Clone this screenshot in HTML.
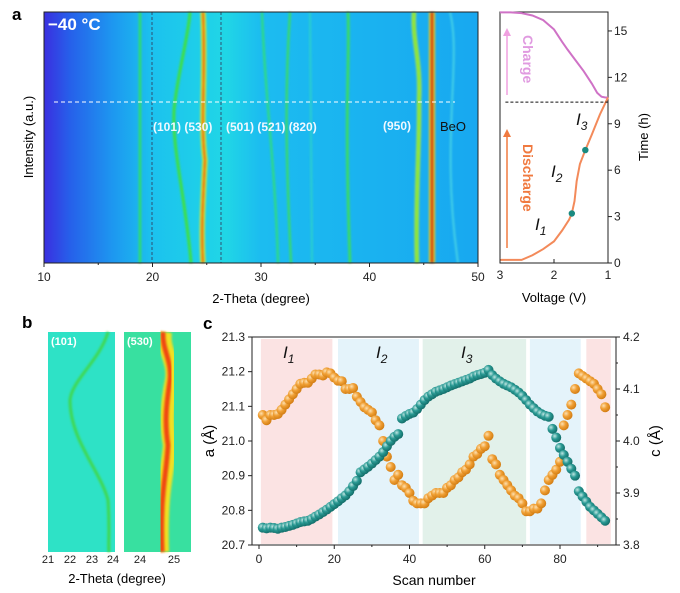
<!DOCTYPE html>
<html><head><meta charset="utf-8"><style>
body{margin:0;background:#fff;width:680px;height:593px;overflow:hidden;font-family:"Liberation Sans",sans-serif}
svg{position:absolute;left:0;top:0}
text{font-family:"Liberation Sans","Noto Sans CJK SC",sans-serif}
</style></head><body>
<svg width="680" height="593" viewBox="0 0 680 593">
<defs>
<linearGradient id="bgA" x1="0" x2="1" y1="0" y2="0">
<stop offset="0" stop-color="#3a2fe0"/><stop offset="0.06" stop-color="#2660ea"/><stop offset="0.16" stop-color="#1d98f0"/><stop offset="0.25" stop-color="#1cc2ee"/><stop offset="0.42" stop-color="#20d6e6"/><stop offset="0.5" stop-color="#1cbcf0"/><stop offset="1" stop-color="#18a8f0"/>
</linearGradient>
<radialGradient id="gT" cx="0.35" cy="0.35" r="0.7"><stop offset="0" stop-color="#bfe6e2"/><stop offset="0.45" stop-color="#2a9a94"/><stop offset="1" stop-color="#116a66"/></radialGradient>
<radialGradient id="gO" cx="0.35" cy="0.35" r="0.7"><stop offset="0" stop-color="#fde0b0"/><stop offset="0.45" stop-color="#f0a035"/><stop offset="1" stop-color="#d07a10"/></radialGradient>
<filter id="bl"><feGaussianBlur stdDeviation="1"/></filter>
</defs>

<text x="12" y="20" font-size="17" font-weight="bold">a</text>
<g>
<rect x="44" y="12" width="434" height="251" fill="url(#bgA)"/>
<g fill="none" filter="url(#bl)">
<path d="M140,12 L140,263" stroke="#30e060" stroke-width="2.5"/>
<path d="M190,12 C188,40 178,70 174,110 C172,150 186,200 191,263" stroke="#40e040" stroke-width="3"/>
<path d="M203,12 C206,80 200,120 205,160 C203,200 201,230 203,263" stroke="#f0f020" stroke-width="5"/>
<path d="M203,12 C206,80 200,120 205,160 C203,200 201,230 203,263" stroke="#e02010" stroke-width="2"/>
<path d="M262,12 C265,100 275,160 278,263" stroke="#30e070" stroke-width="2"/>
<path d="M290,12 C284,100 287,180 291,263" stroke="#40e050" stroke-width="2"/>
<path d="M310,12 L312,263" stroke="#30d8c0" stroke-width="1.5"/>
<path d="M348,12 C350,60 344,100 350,263" stroke="#40e050" stroke-width="2.5"/>
<path d="M414,12 C412,40 421,60 419,100 C420,140 415,200 417,263" stroke="#d0f020" stroke-width="4"/>
<path d="M414,12 C412,40 421,60 419,100 C420,140 415,200 417,263" stroke="#30e040" stroke-width="1.5"/>
<path d="M432,12 L432,263" stroke="#f0d020" stroke-width="6"/>
<path d="M432,12 L432,263" stroke="#d01010" stroke-width="3"/>
<path d="M450,12 C462,60 440,140 458,263" stroke="#60e8e0" stroke-width="1.2"/>
</g>
<line x1="152" y1="12" x2="152" y2="263" stroke="#335" stroke-dasharray="3,2" stroke-width="0.8"/>
<line x1="221" y1="12" x2="221" y2="263" stroke="#335" stroke-dasharray="3,2" stroke-width="0.8"/>
<line x1="54" y1="102" x2="455" y2="102" stroke="#fff" stroke-dasharray="4,3" stroke-width="1"/>
<text x="48" y="30" font-size="17" font-weight="bold" fill="#fff">−40 °C</text>
<g font-size="12" font-weight="bold" fill="#f0f8ff">
<text x="153" y="131">(101) (530)</text>
<text x="226" y="131">(501) (521) (820)</text>
<text x="383" y="130">(950)</text>
</g>
<text x="440" y="131" font-size="13" fill="#111">BeO</text>
</g>
<rect x="44" y="12" width="434" height="251" fill="none" stroke="#222" stroke-width="1"/>
<g id="axA" font-size="12" fill="#222"></g>
<text x="261" y="303" font-size="13" text-anchor="middle">2-Theta (degree)</text>
<text transform="translate(33,137) rotate(-90)" font-size="13" text-anchor="middle">Intensity (a.u.)</text>

<g id="volt"></g>

<text x="22" y="328" font-size="17" font-weight="bold">b</text>
<g>
<rect x="48" y="332" width="67" height="220" fill="#2ee2c6"/>
<path d="M108,332 C100,360 72,380 70,400 C70,440 100,470 108,500 C110,530 108,545 109,552" fill="none" stroke="#40d850" stroke-width="3" filter="url(#bl)"/>
<text x="51" y="345" font-size="11" font-weight="bold" fill="#fff">(101)</text>
</g>
<g>
<rect x="124" y="332" width="67" height="220" fill="#38e0a0"/>
<path d="M165,332 C162,350 175,360 172,380 C168,400 165,420 170,445 C168,470 160,490 162,552" fill="none" stroke="#f0e020" stroke-width="14" filter="url(#bl)"/>
<path d="M163,332 C162,350 172,360 170,380 C167,400 164,420 168,445 C166,480 160,490 162,552" fill="none" stroke="#f02010" stroke-width="5" filter="url(#bl)" opacity="0.8"/>
<text x="127" y="345" font-size="11" font-weight="bold" fill="#fff">(530)</text>
</g>
<g font-size="11" fill="#222" text-anchor="middle">
<text x="48" y="563">21</text><text x="70" y="563">22</text><text x="92" y="563">23</text><text x="113" y="563">24</text>
<text x="140" y="563">24</text><text x="174" y="563">25</text>
</g>
<text x="117" y="583" font-size="13" text-anchor="middle">2-Theta (degree)</text>

<text x="203" y="329" font-size="17" font-weight="bold">c</text>
<g id="chartC"></g>
</svg>

<script>
const scans = Array.from({length:92},(_,i)=>i+1);
const aValues = [20.750,20.748,20.750,20.749,20.747,20.750,20.752,20.755,20.758,20.762,20.766,20.768,20.770,20.775,20.782,20.788,20.795,20.802,20.810,20.818,20.826,20.835,20.843,20.855,20.870,20.885,20.910,20.918,20.926,20.935,20.945,20.955,20.968,20.985,21.000,21.012,21.020,21.065,21.072,21.078,21.082,21.092,21.105,21.118,21.128,21.135,21.142,21.146,21.150,21.155,21.160,21.164,21.168,21.172,21.176,21.180,21.186,21.190,21.193,21.197,21.205,21.190,21.180,21.172,21.165,21.160,21.155,21.148,21.140,21.130,21.118,21.105,21.095,21.085,21.078,21.073,21.070,21.035,21.010,20.980,20.960,20.940,20.920,20.900,20.855,20.840,20.825,20.810,20.800,20.790,20.780,20.770];
const cValues = [4.050,4.040,4.050,4.050,4.052,4.060,4.070,4.080,4.090,4.100,4.110,4.112,4.112,4.120,4.128,4.128,4.126,4.132,4.130,4.122,4.116,4.115,4.100,4.100,4.102,4.085,4.075,4.065,4.060,4.055,4.040,4.030,4.000,3.970,3.950,3.925,3.935,3.915,3.910,3.900,3.885,3.880,3.880,3.880,3.890,3.895,3.900,3.900,3.900,3.910,3.915,3.925,3.930,3.940,3.945,3.955,3.970,3.975,3.985,3.990,4.010,3.965,3.955,3.935,3.925,3.915,3.905,3.895,3.890,3.880,3.865,3.865,3.870,3.870,3.880,3.905,3.925,3.935,3.945,3.960,4.030,4.050,4.070,4.100,4.130,4.125,4.120,4.115,4.110,4.100,4.090,4.065];
const bandStarts = [0.5,21,43.5,72,87];
const bandEnds = [19.5,42.5,71,85.5,93.5];
const bandColors = ['#fbe3e3','#e4f3fa','#e2f1ea','#e4f3fa','#fbe3e3'];
const xTicksC = [0,20,40,60,80];
const aTicks = [20.7,20.8,20.9,21.0,21.1,21.2,21.3];
const cTicks = [3.8,3.9,4.0,4.1,4.2];
const thetaTicks = [10,20,30,40,50];
const chargeV = [3.0,2.8,2.6,2.4,2.2,2.0,1.85,1.75,1.6,1.45,1.3,1.2,1.12,1.05,1.0];
const chargeT = [16.2,16.2,16.15,16.0,15.7,15.1,14.3,13.8,13.1,12.4,11.6,11.0,10.75,10.7,10.7];
const dischV = [3.0,2.6,2.4,2.2,2.0,1.85,1.72,1.67,1.62,1.58,1.52,1.42,1.3,1.15,1.0];
const dischT = [0.2,0.2,0.5,0.9,1.4,2.1,2.8,3.2,4.0,5.3,6.4,7.3,8.3,9.6,10.7];
const markerV = [1.67,1.42];
const markerT = [3.2,7.3];
const voltTicks = [3,2,1];
const timeTicks = [0,3,6,9,12,15];

const NS='http://www.w3.org/2000/svg';
function el(tag,attrs,parent,txt){const e=document.createElementNS(NS,tag);for(const k in attrs)e.setAttribute(k,attrs[k]);if(txt!==undefined)e.textContent=txt;parent.appendChild(e);return e;}

const axA=document.getElementById('axA');
const xTh=v=>44+(v-10)*(434/40);
thetaTicks.forEach(t=>{
  const l=el('line',{x1:xTh(t),x2:xTh(t),y1:263,y2:267,stroke:'#222'},axA);
  
  
  const tx=el('text',{x:xTh(t),y:281,'text-anchor':'middle'},axA,String(t));
  
  
});
[15,25,35,45].forEach(t=>el('line',{x1:xTh(t),x2:xTh(t),y1:263,y2:265,stroke:'#222'},axA));

const vg=document.getElementById('volt');
const xV=v=>500+(3-v)*54;
const yT=t=>263-t*15.47;
el('rect',{x:500,y:12,width:108,height:251,fill:'#fff',stroke:'#222'},vg);
const cp=el('polyline',{points:chargeV.map((v,i)=>xV(v)+','+yT(chargeT[i])).join(' '),fill:'none',stroke:'#cf72c6','stroke-width':2},vg);


const dp=el('polyline',{points:dischV.map((v,i)=>xV(v)+','+yT(dischT[i])).join(' '),fill:'none',stroke:'#f38a5a','stroke-width':2},vg);


markerV.forEach((v,i)=>{const c=el('circle',{cx:xV(v),cy:yT(markerT[i]),r:3.2,fill:'#1a8a80'},vg);
  
  });
el('line',{x1:xV(2.9),x2:xV(1),y1:yT(10.4),y2:yT(10.4),stroke:'#111','stroke-dasharray':'3,2'},vg);
voltTicks.forEach(v=>{el('line',{x1:xV(v),x2:xV(v),y1:263,y2:259,stroke:'#222'},vg);
  const t=el('text',{x:xV(v),y:279,'text-anchor':'middle','font-size':12,fill:'#222'},vg,String(v));
  
  });
timeTicks.forEach(v=>{el('line',{x1:608,x2:612,y1:yT(v),y2:yT(v),stroke:'#222'},vg);
  const t=el('text',{x:614,y:yT(v)+4,'font-size':12,fill:'#222'},vg,String(v));
  
  });
el('text',{x:554,y:302,'text-anchor':'middle','font-size':13},vg,'Voltage (V)');
el('text',{transform:'translate(648,137) rotate(-90)','text-anchor':'middle','font-size':13},vg,'Time (h)');
el('line',{x1:507,x2:507,y1:95,y2:35,stroke:'#f0a0e0','stroke-width':1.5},vg);
el('polygon',{points:'503,36 511,36 507,28',fill:'#f0a0e0'},vg);
el('text',{transform:'translate(523,35) rotate(90)','font-size':14,'font-weight':'bold',fill:'#e09ae0'},vg,'Charge');
el('line',{x1:507,x2:507,y1:248,y2:136,stroke:'#f07a40','stroke-width':1.5},vg);
el('polygon',{points:'503,137 511,137 507,129',fill:'#f07a40'},vg);
el('text',{transform:'translate(523,144) rotate(90)','font-size':14,'font-weight':'bold',fill:'#f07a40'},vg,'Discharge');
[['l1',535,230,'1'],['l2',551,177,'2'],['l3',576,125,'3']].forEach(a=>{
  const t=el('text',{x:a[1],y:a[2],'font-size':17,'font-style':'italic',fill:'#111'},vg);
  t.innerHTML='<tspan>I</tspan><tspan dy="5" font-size="12">'+a[3]+'</tspan>';});

const cg=document.getElementById('chartC');
const X0=252,X1=616,Y0=337,Y1=545;
const xS=s=>259+s*(301/80);
const yA=a=>Y1-(a-20.7)/0.6*(Y1-Y0);
const yC=c=>Y1-(c-3.8)/0.4*(Y1-Y0);
bandStarts.forEach((s,i)=>{const r=el('rect',{x:xS(s),y:Y0+2,width:xS(bandEnds[i])-xS(s),height:Y1-Y0-3,fill:bandColors[i]},cg);
  
  });
[['I',283,358,'1'],['I',376,358,'2'],['I',461,358,'3']].forEach(a=>{
  const t=el('text',{x:a[1],y:a[2],'font-size':17,'font-style':'italic',fill:'#111'},cg);
  t.innerHTML='<tspan>I</tspan><tspan dy="5" font-size="12">'+a[3]+'</tspan>';});
scans.forEach((s,i)=>{const c=el('circle',{cx:xS(s),cy:yC(cValues[i]),r:5,fill:'url(#gO)'},cg);
  
  });
scans.forEach((s,i)=>{const c=el('circle',{cx:xS(s),cy:yA(aValues[i]),r:5,fill:'url(#gT)'},cg);
  
  });
el('rect',{x:X0,y:Y0,width:X1-X0,height:Y1-Y0,fill:'none',stroke:'#222'},cg);
xTicksC.forEach(t=>{el('line',{x1:xS(t),x2:xS(t),y1:Y1,y2:Y1+4,stroke:'#222'},cg);
  const tx=el('text',{x:xS(t),y:Y1+18,'text-anchor':'middle','font-size':12,fill:'#222'},cg,String(t));
  
  });
[10,30,50,70,90].forEach(t=>el('line',{x1:xS(t),x2:xS(t),y1:Y1,y2:Y1+2,stroke:'#222'},cg));
aTicks.forEach(t=>{el('line',{x1:X0,x2:X0-4,y1:yA(t),y2:yA(t),stroke:'#222'},cg);
  const tx=el('text',{x:X0-7,y:yA(t)+4,'text-anchor':'end','font-size':12,fill:'#222'},cg,t.toFixed(1));
  
  });
cTicks.forEach(t=>{el('line',{x1:X1,x2:X1+4,y1:yC(t),y2:yC(t),stroke:'#222'},cg);
  const tx=el('text',{x:X1+7,y:yC(t)+4,'font-size':12,fill:'#222'},cg,t.toFixed(1));
  
  });
[3.85,3.95,4.05,4.15].forEach(t=>el('line',{x1:X1,x2:X1+2,y1:yC(t),y2:yC(t),stroke:'#222'},cg));
el('text',{x:434,y:585,'text-anchor':'middle','font-size':14},cg,'Scan number');
el('text',{transform:'translate(214,441) rotate(-90)','text-anchor':'middle','font-size':15},cg,'a (Å)');
el('text',{transform:'translate(660,441) rotate(-90)','text-anchor':'middle','font-size':15},cg,'c (Å)');
</script>
</body></html>
